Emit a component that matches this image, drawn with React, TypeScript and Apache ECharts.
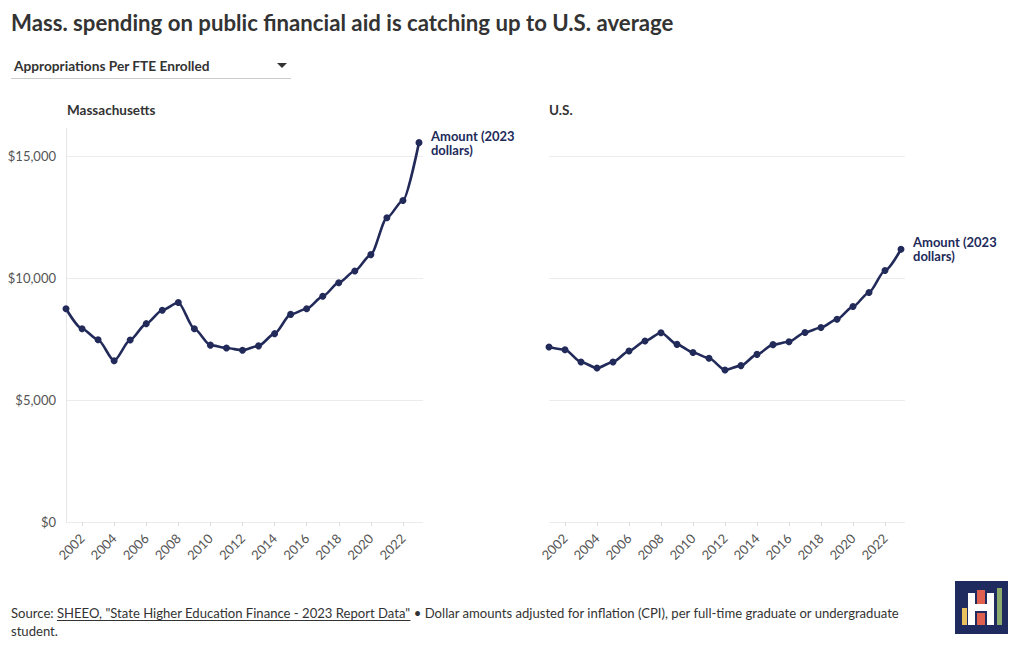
import React, { useEffect, useRef } from "react";
import * as echarts from "echarts";

const years = [2001, 2002, 2003, 2004, 2005, 2006, 2007, 2008, 2009, 2010, 2011, 2012, 2013, 2014, 2015, 2016, 2017, 2018, 2019, 2020, 2021, 2022, 2023];
const maValues = [8740, 7920, 7470, 6610, 7460, 8130, 8680, 9000, 7920, 7250, 7130, 7040, 7220, 7720, 8510, 8740, 9250, 9810, 10290, 10960, 12470, 13180, 15550];
const usValues = [7170, 7060, 6560, 6310, 6560, 7010, 7420, 7760, 7280, 6950, 6710, 6230, 6410, 6870, 7270, 7390, 7770, 7970, 8310, 8830, 9410, 10310, 11180];
const yTicks = [0, 5000, 10000, 15000];
const xTickYears = [2002, 2004, 2006, 2008, 2010, 2012, 2014, 2016, 2018, 2020, 2022];
const panelTitles = ["Massachusetts", "U.S."];
const endLabelText = "Amount (2023\ndollars)";
const titleText = "Mass. spending on public financial aid is catching up to U.S. average";
const dropdownText = "Appropriations Per FTE Enrolled";
const sourcePrefix = "Source: ";
const sourceLink = "SHEEO, \"State Higher Education Finance - 2023 Report Data\"";
const sourceRest = " • Dollar amounts adjusted for inflation (CPI), per full-time graduate or undergraduate";
const sourceLine2 = "student.";

const NAVY = "#222a5a";
const TEXT = "#333333";
const FONT = "Lato, 'Noto Sans', sans-serif";

export default function App() {
  const ref = useRef<HTMLDivElement>(null);
  useEffect(() => {
    const el = ref.current!;
    const chart = echarts.init(el, null, { renderer: "svg" });
    const ctx = document.createElement("canvas").getContext("2d")!;
    const measure = (t: string, f: string) => {
      ctx.font = f;
      return ctx.measureText(t).width;
    };
    const footFont = "13.1px Lato";
    const wPrefix = measure(sourcePrefix, footFont);
    const wLink = measure(sourceLink, footFont);

    const grids = [
      { left: 66, top: 128, width: 357, height: 394 },
      { left: 549, top: 128, width: 356, height: 394 },
    ];
    const xAxes = grids.map((_, i) => ({
      type: "value",
      gridIndex: i,
      min: 2001,
      max: 2023.25,
      axisLine: { show: false },
      axisTick: { show: true, customValues: xTickYears, length: 4, lineStyle: { color: "#dddddd" } },
      axisLabel: {
        customValues: xTickYears,
        rotate: 45,
        color: "#555555",
        fontSize: 13,
        fontFamily: FONT,
        margin: 14,
        formatter: (v: number) => String(v),
      },
      splitLine: { show: false },
    }));
    const yAxes = grids.map((_, i) => ({
      type: "value",
      gridIndex: i,
      min: 0,
      max: 16150,
      interval: 5000,
      axisLine: { show: i === 0, lineStyle: { color: "#e6e6e6" } },
      axisTick: { show: false },
      axisLabel: {
        show: i === 0,
        customValues: yTicks,
        color: "#555555",
        fontSize: 13,
        fontFamily: FONT,
        margin: 10,
        formatter: (v: number) => "$" + v.toLocaleString("en-US"),
      },
      splitLine: { show: true, showMaxLine: false, lineStyle: { color: "#ececec" } },
    }));
    const series = [maValues, usValues].map((vals, i) => ({
      type: "line",
      name: panelTitles[i],
      xAxisIndex: i,
      yAxisIndex: i,
      data: years.map((y, j) => [y, vals[j]]),
      smooth: 0.25,
      smoothMonotone: "x",
      symbol: "circle",
      symbolSize: 7,
      itemStyle: { color: NAVY },
      lineStyle: { color: NAVY, width: 2.6 },
      endLabel: {
        show: true,
        formatter: endLabelText,
        color: NAVY,
        fontWeight: "bold",
        fontSize: 13,
        lineHeight: 14,
        fontFamily: FONT,
        distance: 12,
      },
    }));

    const logo = {
      type: "group",
      left: 955,
      top: 581,
      children: [
        { type: "rect", shape: { x: 0, y: 0, width: 53, height: 53 }, style: { fill: "#1f2b5e" } },
        { type: "rect", shape: { x: 7, y: 27, width: 5, height: 17 }, style: { fill: "#e9c25f" } },
        { type: "rect", shape: { x: 13, y: 12, width: 7, height: 32 }, style: { fill: "#ffffff" } },
        { type: "rect", shape: { x: 32, y: 12, width: 7, height: 32 }, style: { fill: "#ffffff" } },
        { type: "rect", shape: { x: 20, y: 23, width: 12, height: 7 }, style: { fill: "#ffffff" } },
        { type: "rect", shape: { x: 22, y: 9, width: 8, height: 14 }, style: { fill: "#e0604f" } },
        { type: "rect", shape: { x: 22, y: 32, width: 8, height: 12 }, style: { fill: "#e0604f" } },
        { type: "rect", shape: { x: 42, y: 7, width: 5, height: 37 }, style: { fill: "#8aab6b" } },
      ],
    };

    const option = {
      animation: false,
      grid: grids.map((g) => ({ ...g, containLabel: false })),
      xAxis: xAxes,
      yAxis: yAxes,
      series,
      graphic: [
        {
          type: "text",
          left: 11,
          top: 11,
          style: { text: titleText, font: `bold 22.2px ${FONT}`, fill: TEXT },
        },
        {
          type: "text",
          left: 14,
          top: 58,
          style: { text: dropdownText, font: `bold 13.7px ${FONT}`, fill: TEXT },
        },
        {
          type: "polygon",
          shape: { points: [[277, 63], [287, 63], [282, 68]] },
          style: { fill: TEXT },
        },
        {
          type: "line",
          shape: { x1: 11, y1: 78.5, x2: 291, y2: 78.5 },
          style: { stroke: "#cccccc", lineWidth: 1 },
        },
        {
          type: "text",
          left: 67,
          top: 103,
          style: { text: panelTitles[0], font: `bold 13.5px ${FONT}`, fill: TEXT },
        },
        {
          type: "text",
          left: 549,
          top: 103,
          style: { text: panelTitles[1], font: `bold 13.5px ${FONT}`, fill: TEXT },
        },
        {
          type: "text",
          x: 11,
          y: 613,
          style: { text: sourcePrefix, font: footFont, fill: TEXT, verticalAlign: "middle" },
        },
        {
          type: "text",
          x: 11 + wPrefix,
          y: 613,
          style: { text: sourceLink, font: footFont, fill: TEXT, verticalAlign: "middle" },
        },
        {
          type: "line",
          shape: { x1: 11 + wPrefix, y1: 620.5, x2: 11 + wPrefix + wLink, y2: 620.5 },
          style: { stroke: TEXT, lineWidth: 1 },
        },
        {
          type: "text",
          x: 11 + wPrefix + wLink,
          y: 613,
          style: { text: sourceRest, font: footFont, fill: TEXT, verticalAlign: "middle" },
        },
        {
          type: "text",
          x: 11,
          y: 631,
          style: { text: sourceLine2, font: footFont, fill: TEXT, verticalAlign: "middle" },
        },
        logo,
      ],
    };
    chart.setOption(option as any);
    return () => chart.dispose();
  }, []);
  return <div ref={ref} style={{ position: "absolute", left: 0, top: 0, width: 1020, height: 650 }} />;
}
